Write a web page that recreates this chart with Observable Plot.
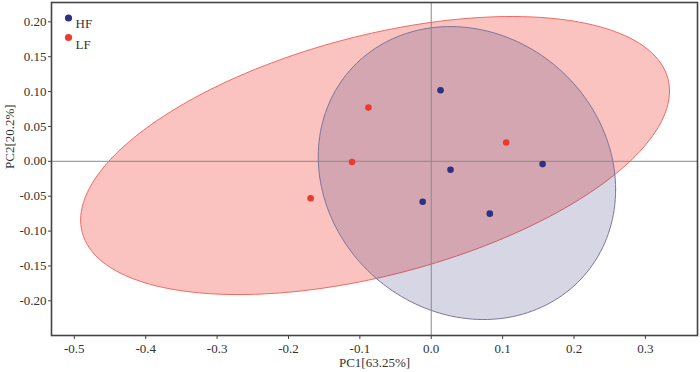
<!DOCTYPE html>
<html>
<head>
<meta charset="utf-8">
<script src="https://cdn.jsdelivr.net/npm/d3@7"></script>
<script src="https://cdn.jsdelivr.net/npm/@observablehq/plot@0.6"></script>
<style>
  html, body { margin: 0; padding: 0; background: #fff; }
  #chart { width: 700px; height: 372px; }
</style>
</head>
<body>
<div id="chart"></div>
<script>
// ---- data ----
const groups = ["HF", "LF"];
const groupColors = ["#2c3182", "#ec3b2c"];

const hfPC1 = [0.013, 0.027, -0.012, 0.082, 0.156];
const hfPC2 = [0.102, -0.012, -0.058, -0.075, -0.004];

const lfPC1 = [-0.088, -0.111, -0.169, 0.105];
const lfPC2 = [0.077, -0.001, -0.053, 0.027];

// confidence ellipse parameters: HF, LF
const ellipseCenterX = [0.050, -0.0787];
const ellipseCenterY = [-0.0168, 0.0083];
const ellipseSpreadX = [0.2083, 0.4125];
const ellipseSpreadY = [0.2100, 0.1993];
const ellipseCorr = [-0.112, 0.464];

const xTicks = [-0.5, -0.4, -0.3, -0.2, -0.1, 0.0, 0.1, 0.2, 0.3];
const yTicks = [-0.20, -0.15, -0.10, -0.05, 0.00, 0.05, 0.10, 0.15, 0.20];
const xLabel = "PC1[63.25%]";
const yLabel = "PC2[20.2%]";

// ---- build tables ----
const hfPoints = hfPC1.map((x, i) => ({x, y: hfPC2[i]}));
const lfPoints = lfPC1.map((x, i) => ({x, y: lfPC2[i]}));

function ellipse(k) {
  const pts = [];
  const n = 180;
  const r = ellipseCorr[k];
  for (let i = 0; i <= n; i++) {
    const t = 2 * Math.PI * i / n;
    pts.push({
      x: ellipseCenterX[k] + ellipseSpreadX[k] * Math.cos(t),
      y: ellipseCenterY[k] + ellipseSpreadY[k] * (r * Math.cos(t) + Math.sqrt(1 - r * r) * Math.sin(t))
    });
  }
  return pts;
}
const hfEllipse = ellipse(0);
const lfEllipse = ellipse(1);

const font = "'Liberation Serif', 'Times New Roman', serif";

const chart = Plot.plot({
  width: 700,
  height: 372,
  marginLeft: 51,
  marginRight: 3,
  marginTop: 2,
  marginBottom: 37,
  style: {fontFamily: font, fontSize: "13px", color: "#333", background: "#fff"},
  x: {domain: [-0.532, 0.373], ticks: xTicks},
  y: {domain: [-0.2497, 0.2277], ticks: yTicks},
  marks: [
    Plot.line(lfEllipse, {x: "x", y: "y", fill: "#f03c32", fillOpacity: 0.31, stroke: "#f06a64", strokeWidth: 1}),
    Plot.line(hfEllipse, {x: "x", y: "y", fill: "#35337e", fillOpacity: 0.2, stroke: "#7f7598", strokeWidth: 1}),
    Plot.ruleX([0], {stroke: "#8a8a8a", strokeWidth: 1}),
    Plot.ruleY([0], {stroke: "#8a8a8a", strokeWidth: 1}),
    Plot.dot(hfPoints, {x: "x", y: "y", r: 3.3, fill: groupColors[0], stroke: "none"}),
    Plot.dot(lfPoints, {x: "x", y: "y", r: 3.3, fill: groupColors[1], stroke: "none"}),
    Plot.frame({stroke: "#444", strokeWidth: 1.6}),
    Plot.axisX({ticks: xTicks, tickSize: 4, tickPadding: 4, tickFormat: d => d.toFixed(1), label: null, stroke: "#444", fill: "#333", fontSize: 13}),
    Plot.axisY({ticks: yTicks, tickSize: 3, tickPadding: 2, tickFormat: d => d.toFixed(2), label: null, stroke: "#444", fill: "#333", fontSize: 13}),
    Plot.text([xLabel], {frameAnchor: "bottom", dy: 31, text: d => d, fill: "#333", fontSize: 13}),
    Plot.text([yLabel], {frameAnchor: "left", dx: -42, rotate: -90, text: d => d, fill: "#333", fontSize: 13}),
    // legend
    Plot.dot([groups[0]], {frameAnchor: "top-left", dx: 17, dy: 15.5, r: 3.6, fill: groupColors[0]}),
    Plot.dot([groups[1]], {frameAnchor: "top-left", dx: 17, dy: 35, r: 3.6, fill: groupColors[1]}),
    Plot.text([groups[0]], {frameAnchor: "top-left", dx: 24, dy: 16.5, text: d => d, textAnchor: "start", fill: "#333", fontSize: 13}),
    Plot.text([groups[1]], {frameAnchor: "top-left", dx: 24, dy: 37, text: d => d, textAnchor: "start", fill: "#333", fontSize: 13})
  ]
});
document.getElementById("chart").appendChild(chart);
</script>
</body>
</html>
